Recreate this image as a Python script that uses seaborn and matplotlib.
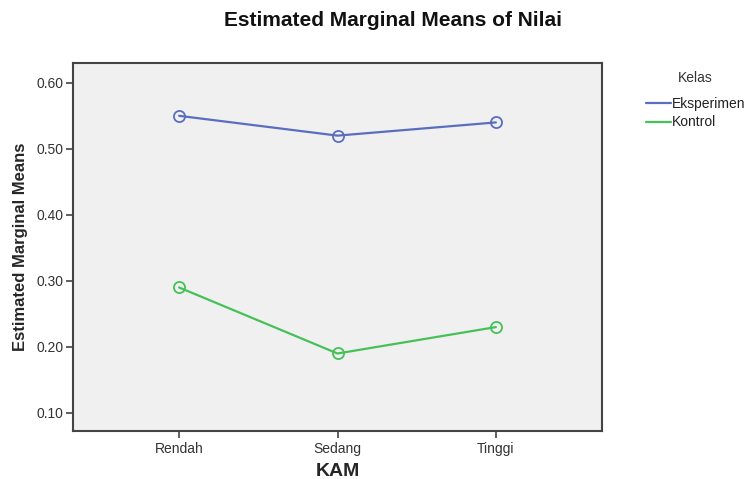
import matplotlib
matplotlib.use("Agg")
import matplotlib.pyplot as plt
from matplotlib.lines import Line2D
import seaborn as sns
import pandas as pd

categories = ["Rendah", "Sedang", "Tinggi"]
eksperimen = [0.55, 0.52, 0.54]
kontrol = [0.29, 0.19, 0.23]
groups = ["Eksperimen", "Kontrol"]
colors = ["#5a6ebf", "#45c157"]
yticks = [0.10, 0.20, 0.30, 0.40, 0.50, 0.60]

df = pd.DataFrame({
    "KAM": categories * 2,
    "Nilai": eksperimen + kontrol,
    "Kelas": [groups[0]] * 3 + [groups[1]] * 3,
})
df["pos"] = [0, 1, 2] * 2

sns.set_style("white")
plt.rcParams["font.family"] = ["Liberation Sans", "DejaVu Sans"]

fig = plt.figure(figsize=(7.49, 4.79), dpi=100)
ax = fig.add_axes([73 / 749, 1 - 431 / 479, (602 - 73) / 749, (431 - 63) / 479])
ax.set_facecolor("#f0f0f0")

sns.lineplot(data=df, x="pos", y="Nilai", hue="Kelas", palette=colors,
             marker="o", markersize=8, markerfacecolor="none",
             markeredgewidth=1.3, linewidth=1.6, sort=False, legend=False, ax=ax)
for line, c in zip(ax.lines, colors):
    line.set_markeredgecolor(c)

ax.set_xlim(-0.67, 2.67)
ax.set_ylim(0.0726, 0.630)
ax.set_xticks(range(len(categories)))
ax.set_xticklabels(categories)
ax.set_yticks(yticks)
ax.set_yticklabels([f"{v:.2f}" for v in yticks])
ax.tick_params(axis="both", direction="out", length=5, width=1.2,
               bottom=True, left=True,
               color="#444444", labelsize=10, labelcolor="#333333", pad=2)
ax.tick_params(axis="x", pad=3)
for s in ax.spines.values():
    s.set_color("#444444")
    s.set_linewidth(1.5)

ax.set_xlabel("KAM", fontsize=14, fontweight="bold", labelpad=5)
ax.set_ylabel("Estimated Marginal Means", fontsize=12, fontweight="bold", labelpad=6)
fig.text(393 / 749, 1 - 20 / 479, "Estimated Marginal Means of Nilai",
         ha="center", va="center", fontsize=15, fontweight="bold", color="#111111")

handles = [Line2D([0], [0], color=c, lw=1.6) for c in colors]
leg = fig.legend(handles, groups, title="Kelas", loc="upper left",
                 bbox_to_anchor=(643 / 749, 1 - 68 / 479), frameon=False,
                 fontsize=10, title_fontsize=10, handlelength=1.8,
                 handletextpad=0.1, labelspacing=0.3, borderaxespad=0,
                 borderpad=0.2)
leg._legend_box.sep = 9
leg.get_title().set_color("#333333")
for t in leg.get_texts():
    t.set_color("#222222")

fig.savefig("out.png", dpi=100)
